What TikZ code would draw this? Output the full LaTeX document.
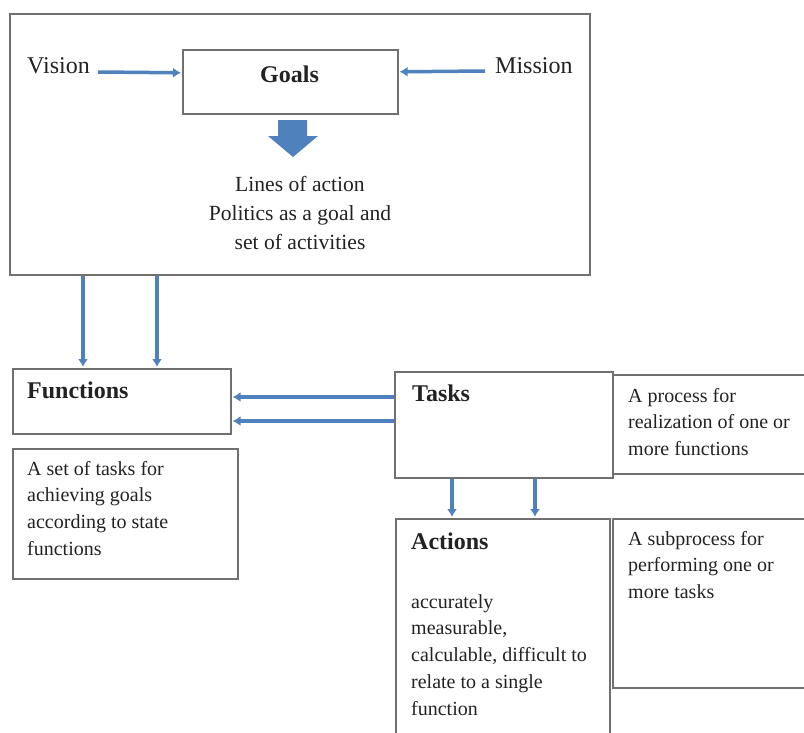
\documentclass[tikz,border=0pt]{standalone}
\usepackage{fontspec}
\setmainfont{Liberation Serif}
\usetikzlibrary{arrows.meta}
\definecolor{flowblue}{RGB}{79,129,189}
\definecolor{framegray}{RGB}{112,112,112}
\definecolor{inkgray}{RGB}{34,34,34}

\begin{document}
\begin{tikzpicture}[x=1pt,y=-1pt,
                        box/.style={draw=framegray, line width=1.6pt, anchor=north west, inner sep=0pt},
                        head/.style={font=\bfseries\fontsize{24}{28}\selectfont, text=inkgray, inner sep=0pt, anchor=base west},
                        word/.style={font=\fontsize{24}{28}\selectfont, text=inkgray, inner sep=0pt, anchor=base west},
                        plain/.style={font=\fontsize{20}{26.8}\selectfont, text=inkgray, inner sep=0pt, anchor=base west, align=flush left, text width=#1,
                                      execute at begin node={\spaceskip=0pt\xspaceskip=0pt}},
                        plain/.default=200pt,
                        flow/.style={draw=flowblue, line width=3.5pt, shorten >=1pt, -{Latex[length=8pt,width=10pt]}}]
                        \useasboundingbox (0,0) rectangle (804,732);
                        \clip (0,0) rectangle (804,732);

                                \node[box, minimum width=580pt, minimum height=261pt] (frame) at (9,13) {};
                                \node[box, minimum width=215pt, minimum height=64pt] (goals) at (182,49) {};
                                \node[head, anchor=base] (goalshead) at (289.5,82) {Goals};
                                \node[word] (vision) at (27,73) {Vision};
                                \node[word] (mission) at (495,73) {Mission};
                                \node[plain=260pt, align=flush center, anchor=base, font=\fontsize{21.6}{29}\selectfont] (lines) at (300,191) {Lines of action\\Politics as a goal and\\set of activities};
                                \fill[flowblue] (278,120) -- (307,120) -- (307,136) -- (318,136) -- (293,157) -- (268,136) -- (278,136) -- cycle;

                                \node[box, minimum width=218pt, minimum height=65pt] (functions) at (12,368) {};
                                \node[head] (functionshead) at (27,398) {Functions};
                                \node[box, minimum width=225pt, minimum height=130pt] (functionsnote) at (12,448) {};
                                \node[plain] (functionsnotetext) at (27,475) {A set of tasks for\\achieving goals\\according to state\\functions};

                                \node[box, minimum width=218pt, minimum height=106pt] (tasks) at (394,371) {};
                                \node[head] (taskshead) at (412,401) {Tasks};
                                \node[box, minimum width=230pt, minimum height=99pt] (tasksnote) at (612,374) {};
                                \node[plain] (tasksnotetext) at (628,402) {A process for\\realization of one or\\more functions};

                                \node[box, minimum width=214pt, minimum height=240pt] (actions) at (395,518) {};
                                \node[head] (actionshead) at (411,549) {Actions};
                                \node[plain] (actionstext) at (411,608) {accurately\\measurable,\\calculable, difficult to\\relate to a single\\function};
                                \node[box, minimum width=230pt, minimum height=169pt] (actionsnote) at (612,518) {};
                                \node[plain] (actionsnotetext) at (628,545) {A subprocess for\\performing one or\\more tasks};

                                \draw[flow] ([xshift=8pt,yshift=1pt]vision.base east) -- ([yshift=9pt]goals.west);
                                \draw[flow] ([xshift=-10pt,yshift=2pt]mission.base west) -- ([yshift=10pt]goals.east);
                                \draw[flow] ([xshift=74pt]frame.south west) -- ([xshift=71pt]functions.north west);
                                \draw[flow] ([xshift=148pt]frame.south west) -- ([xshift=145pt]functions.north west);
                                \draw[flow] ([yshift=-26pt]tasks.north west) -- ([yshift=-29pt]functions.north east);
                                \draw[flow] ([yshift=-50pt]tasks.north west) -- ([yshift=-53pt]functions.north east);
                                \draw[flow] ([xshift=58pt]tasks.south west) -- ([xshift=57pt]actions.north west);
                                \draw[flow] ([xshift=141pt]tasks.south west) -- ([xshift=140pt]actions.north west);
                    \end{tikzpicture}
\end{document}
